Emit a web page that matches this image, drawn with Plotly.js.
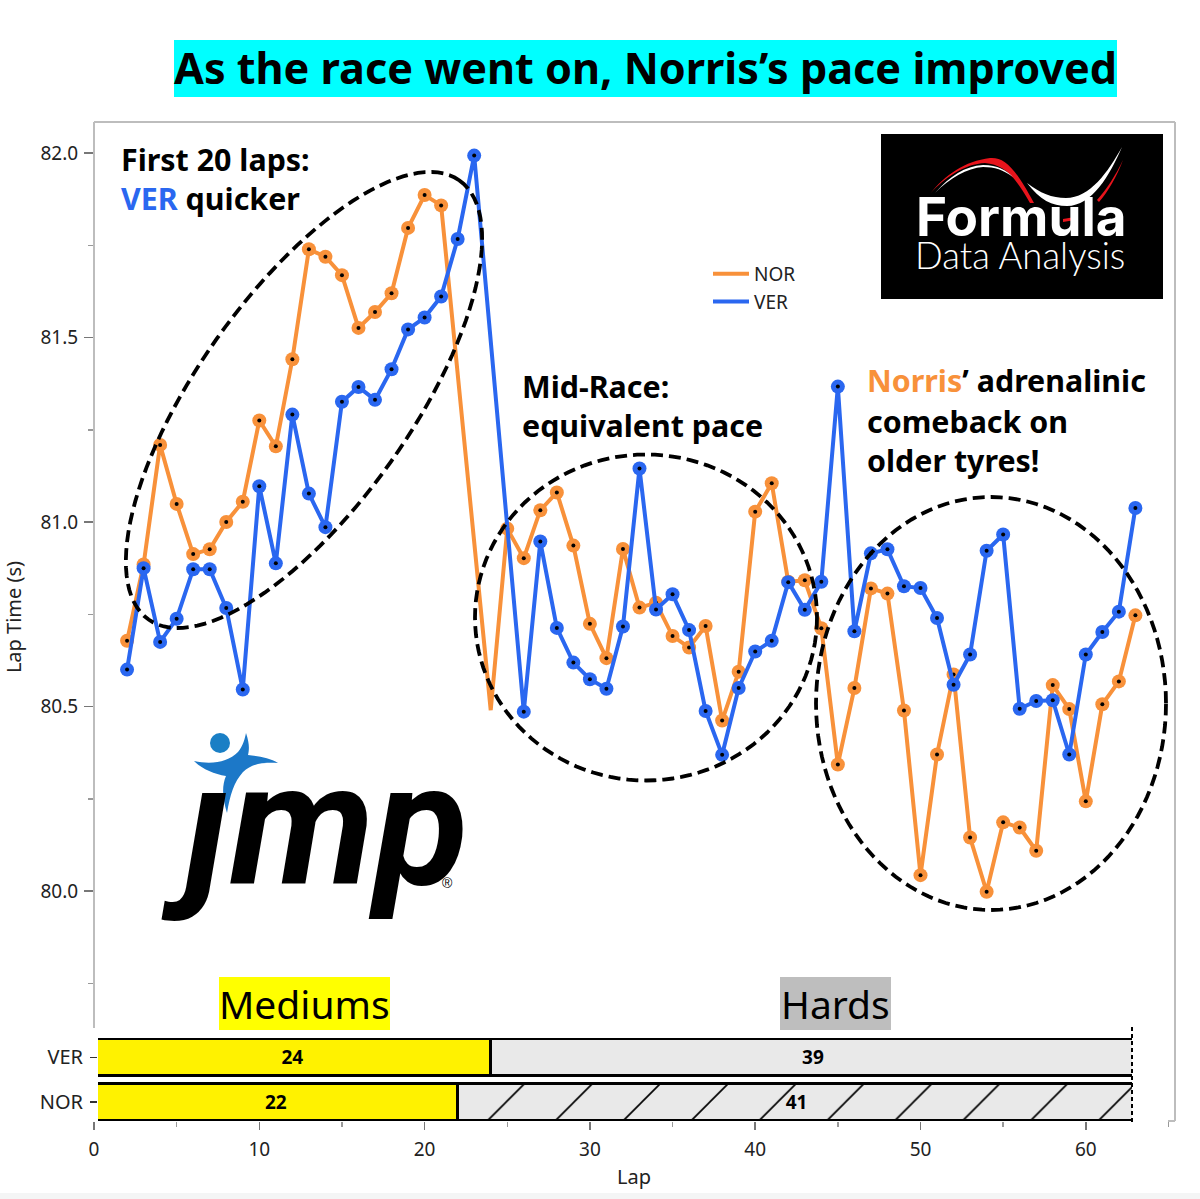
<!DOCTYPE html>
<html><head><meta charset="utf-8">
<script src="https://cdn.plot.ly/plotly-3.0.1.min.js"></script>
<style>html,body{margin:0;padding:0;background:#fff}#c{width:1200px;height:1199px}</style>
</head><body><div id="c"></div>
<script>
// ---- data ----
const laps = [2,3,4,5,6,7,8,9,10,11,12,13,14,15,16,17,18,19,20,21,22,23,24,25,26,27,28,29,30,31,32,33,34,35,36,37,38,39,40,41,42,43,44,45,46,47,48,49,50,51,52,53,54,55,56,57,58,59,60,61,62,63];
const norTimes = [80.678,80.885,81.209,81.049,80.913,80.926,81.000,81.055,81.275,81.205,81.441,81.739,81.719,81.669,81.526,81.569,81.620,81.797,81.886,81.858,null,null,80.49,80.982,80.902,81.032,81.080,80.936,80.724,80.631,80.927,80.768,80.781,80.691,80.660,80.718,80.462,80.594,81.028,81.105,80.838,80.842,80.712,80.343,80.550,80.820,80.806,80.489,80.043,80.370,80.587,80.145,79.998,80.186,80.172,80.109,80.558,80.493,80.243,80.506,80.568,80.747];
const verTimes = [80.600,80.875,80.675,80.738,80.872,80.872,80.767,80.546,81.097,80.888,81.291,81.077,80.986,81.326,81.366,81.331,81.414,81.522,81.554,81.611,81.767,81.993,null,null,80.486,80.947,80.713,80.619,80.574,80.548,80.717,81.145,80.763,80.804,80.707,80.488,80.369,80.550,80.649,80.678,80.837,80.762,80.838,81.367,80.704,80.915,80.926,80.826,80.821,80.740,80.559,80.641,80.922,80.966,80.494,80.515,80.517,80.370,80.641,80.702,80.757,81.038];
const drivers = ['NOR','VER'];
const mediumStint = [22,24];
const hardStint = [41,39];
const hiddenMarkerLap = 24;
const yTicks = [80,80.5,81,81.5,82];
const yTickText = ['80.0','80.5','81.0','81.5','82.0'];
const yMinor = [79.75,80.25,80.75,81.25,81.75];

// ---- helpers ----
const W=1200,H=1199, ORANGE='#F8913A', BLUE='#2A67F0';
const fx=p=>p/W, fy=p=>1-p/H;
const FONT='"Noto Sans", "Open Sans", sans-serif';
function ellipse(cx,cy,a,b,deg){const r=deg*Math.PI/180;let d='';
  for(let i=0;i<=120;i++){const t=i/120*2*Math.PI,x=a*Math.cos(t),y=b*Math.sin(t);
    const X=cx+x*Math.cos(r)+y*Math.sin(r),Y=cy-x*Math.sin(r)+y*Math.cos(r);
    d+=(i?'L':'M')+fx(X).toFixed(5)+','+fy(Y).toFixed(5);}
  return {type:'path',xref:'paper',yref:'paper',path:d+'Z',layer:'above',line:{color:'#000',width:3.8,dash:'12px,6px'}};}
function rect(x0,y0,x1,y1,fill,layer){return {type:'rect',xref:'paper',yref:'paper',x0:fx(x0),x1:fx(x1),y0:fy(y0),y1:fy(y1),fillcolor:fill,line:{width:0},layer:layer||'below'};}
function seg(x0,y0,x1,y1,color,width,dash){return {type:'line',xref:'paper',yref:'paper',x0:fx(x0),x1:fx(x1),y0:fy(y0),y1:fy(y1),line:{color,width,dash:dash||'solid'},layer:'above'};}
function poly(str,fill){
  const d=str.replace(/(-?[\d.]+) (-?[\d.]+)/g,(m,a,b)=>fx(+a).toFixed(5)+','+fy(+b).toFixed(5));
  return {type:'path',xref:'paper',yref:'paper',path:d,fillcolor:fill,line:{width:0},layer:'above'};}
function note(px,py,text,size,opts){opts=opts||{};return {xref:'paper',yref:'paper',x:fx(px),y:fy(py),text,showarrow:false,xanchor:opts.anchor||'left',yanchor:'middle',align:'left',
  font:{family:opts.family||FONT,size,color:opts.color||'#000',weight:opts.weight,style:opts.style}, textangle:0};}

// ---- traces ----
function series(name,ys,color){
  const solid={width:0};
  return [
   {x:laps,y:ys,name,type:'scatter',mode:'lines',connectgaps:true,line:{color,width:4},xaxis:'x',yaxis:'y'},
   {x:laps,y:ys,name,type:'scatter',mode:'markers',showlegend:false,xaxis:'x',yaxis:'y',
    marker:{color,opacity:1,line:solid,size:laps.map(l=>l===hiddenMarkerLap?0:14)}},
   {x:laps,y:ys,name,type:'scatter',mode:'markers',showlegend:false,xaxis:'x',yaxis:'y',
    marker:{color:'#000',opacity:1,line:solid,size:laps.map(l=>l===hiddenMarkerLap?0:4)}}
  ];
}
const barLine={color:'#000',width:2.5};
const barBase={type:'bar',orientation:'h',y:drivers,xaxis:'x2',yaxis:'y2',showlegend:false,textposition:'inside',insidetextanchor:'middle',textangle:0,
  textfont:{family:FONT,size:19,color:'#000',weight:'bold'},constraintext:'none'};
const traces=[
  ...series('NOR',norTimes,ORANGE),
  ...series('VER',verTimes,BLUE),
  {...barBase,name:'Mediums',x:mediumStint,text:mediumStint.map(String),marker:{color:'#FFF200',line:barLine}},
  {...barBase,name:'Hards',x:hardStint,text:hardStint.map(String),
   marker:{color:'#E9E9E9',line:barLine,pattern:{shape:['/',''],fgcolor:'#000',bgcolor:'#E9E9E9',size:48,solidity:0.035,fillmode:'replace'}}}
];

// ---- layout ----
const pxPerLap=16.53,x0px=94;
const yAt=p=>82-(p-153)/369;
const lapAt=p=>(p-x0px)/pxPerLap;
const axisFont={family:FONT,size:19,color:'#222'};
const shapes=[
  rect(174,40,1117,97,'#00FFFF'),
  rect(881,134,1163,299,'#000','below'),
  rect(219,977,390,1030,'#FFFF00'),
  rect(780,977,891,1030,'#BEBEBE'),
  rect(0,1193,1200,1199,'#F4F5F5'),
  seg(94,122,1175,122,'#BDBDBD',2),
  seg(94,122,94,1028,'#BDBDBD',2),
  seg(1175,122,1175,1121,'#BDBDBD',2),
  seg(1168,1121,1175,1121,'#BDBDBD',2),
  seg(1132,1027,1132,1122,'#000',2,'4px,3px'),
  ellipse(304,400,269,106.6,54.7),
  ellipse(646,617.5,171,163,0),
  ellipse(991,703.5,175,206.5,0),
  // Formula swoosh
  poly('M 930 194 C 945 175 965 161 990 158 C 1005 157 1015 168 1034 203 L 1030 203 C 1013 173 1003 165 985 163 C 965 164 945 177 930 194 Z','#E8141C'),
  poly('M 935 193 C 950 176 965 166 983 165 C 998 165 1006 170 1013 177 C 1003 170 995 167 983 167 C 967 168 950 178 935 193 Z','#FFFFFF'),
  poly('M 1027 183 C 1040 200 1052 206 1067 206 C 1092 206 1110 175 1122 147 C 1108 172 1090 198 1066 198 C 1052 198 1040 193 1027 183 Z','#FFFFFF'),
  poly('M 1097 200 C 1106 190 1116 175 1123 160 C 1117 176 1108 192 1099 202 Z','#E8141C'),
  poly('M 1063 219 L 1075 217 L 1075 220 L 1063 222 Z','#E8141C'),
  // JMP figure
  {type:'circle',xref:'paper',yref:'paper',x0:fx(210),x1:fx(230),y0:fy(733),y1:fy(753),fillcolor:'#1A7FC5',line:{width:0},layer:'above'},
  poly('M 194 761 C 212 765 228 762 238 752 C 243 746 245 738 246 733 C 250 745 249 750 248 755 C 258 756 270 758 278 763 C 265 762 252 763 243 772 C 234 782 230 795 227 813 C 222 797 222 785 226 776 C 214 774 202 769 194 761 Z','#1C78C8')
];
const annotations=[
  note(172,68,'As the race went on, Norris’s pace improved',43.2,{weight:700}),
  note(119,159,'First 20 laps:',30.4,{weight:700}),
  note(119,199,'<span style="color:'+BLUE+'">VER</span> quicker',30.4,{weight:700}),
  note(520,386,'Mid-Race:',30.4,{weight:700}),
  note(520,426,'equivalent pace',30.4,{weight:700}),
  note(865,381,'<span style="color:'+ORANGE+'">Norris</span>’ adrenalinic',30.4,{weight:700}),
  note(865,421,'comeback on',30.4,{weight:700}),
  note(865,461,'older tyres!',30.4,{weight:700}),
  note(304.5,1003,'Mediums',39,{anchor:'center'}),
  note(835.5,1003,'Hards',39,{anchor:'center'}),
  note(914,217,'Formula',53,{color:'#fff',weight:700,family:'Inter, "Open Sans", sans-serif'}),
  note(913,255,'Data Analysis',36.5,{color:'#fff',weight:300,family:'Lato, Inter, sans-serif'}),
  note(159,825,'ȷmp',172,{weight:700,style:'italic',family:'Roboto, "Liberation Sans", sans-serif'}),
  note(440,883,'®',14,{family:'"Liberation Sans", sans-serif'})
];
const layout={
  width:W,height:H,margin:{l:0,r:0,t:0,b:0},paper_bgcolor:'#fff',plot_bgcolor:'rgba(0,0,0,0)',
  font:{family:FONT,size:18,color:'#222'},barmode:'stack',bargap:0.19,showlegend:true,hovermode:false,
  legend:{x:fx(708),y:fy(255),xanchor:'left',yanchor:'top',bgcolor:'rgba(0,0,0,0)',font:{family:FONT,size:19,color:'#222'},itemwidth:36,traceorder:'normal'},
  xaxis:{domain:[fx(94),fx(1174)],range:[0,lapAt(1174)],anchor:'free',position:fy(1121),showgrid:false,zeroline:false,showline:false,
    tickmode:'array',tickvals:[0,10,20,30,40,50,60],ticks:'outside',ticklen:8,tickwidth:1.5,tickcolor:'#777',tickfont:axisFont,ticklabelstandoff:3,
    minor:{tickvals:[5,15,25,35,45,55,65],ticks:'outside',ticklen:5,tickcolor:'#999',tickwidth:1.5,showgrid:false},
    title:{text:'Lap',font:{...axisFont,size:20},standoff:9}},
  yaxis:{domain:[fy(1112),fy(122)],range:[yAt(1112),yAt(122)],anchor:'x',showgrid:false,zeroline:false,showline:false,
    tickmode:'array',tickvals:yTicks,ticktext:yTickText,ticks:'outside',ticklen:9,tickwidth:1.5,tickcolor:'#777',tickfont:axisFont,ticklabelstandoff:2,
    minor:{tickvals:yMinor,ticks:'outside',ticklen:5,tickcolor:'#999',tickwidth:1.5,showgrid:false},
    title:{text:'Lap Time (s)',font:{...axisFont,size:20},standoff:15}},
  xaxis2:{domain:[fx(98),fx(1132)],range:[lapAt(98),lapAt(1132)],anchor:'y2',visible:false},
  yaxis2:{domain:[fy(1124),fy(1035)],anchor:'x2',type:'category',categoryorder:'array',categoryarray:drivers,showgrid:false,zeroline:false,showline:false,
    ticks:'outside',ticklen:7,tickwidth:1.5,tickcolor:'#333',tickfont:{...axisFont,size:20},ticklabelstandoff:3},
  shapes,annotations
};
Plotly.newPlot('c',traces,layout,{displayModeBar:false,staticPlot:true});
</script></body></html>
